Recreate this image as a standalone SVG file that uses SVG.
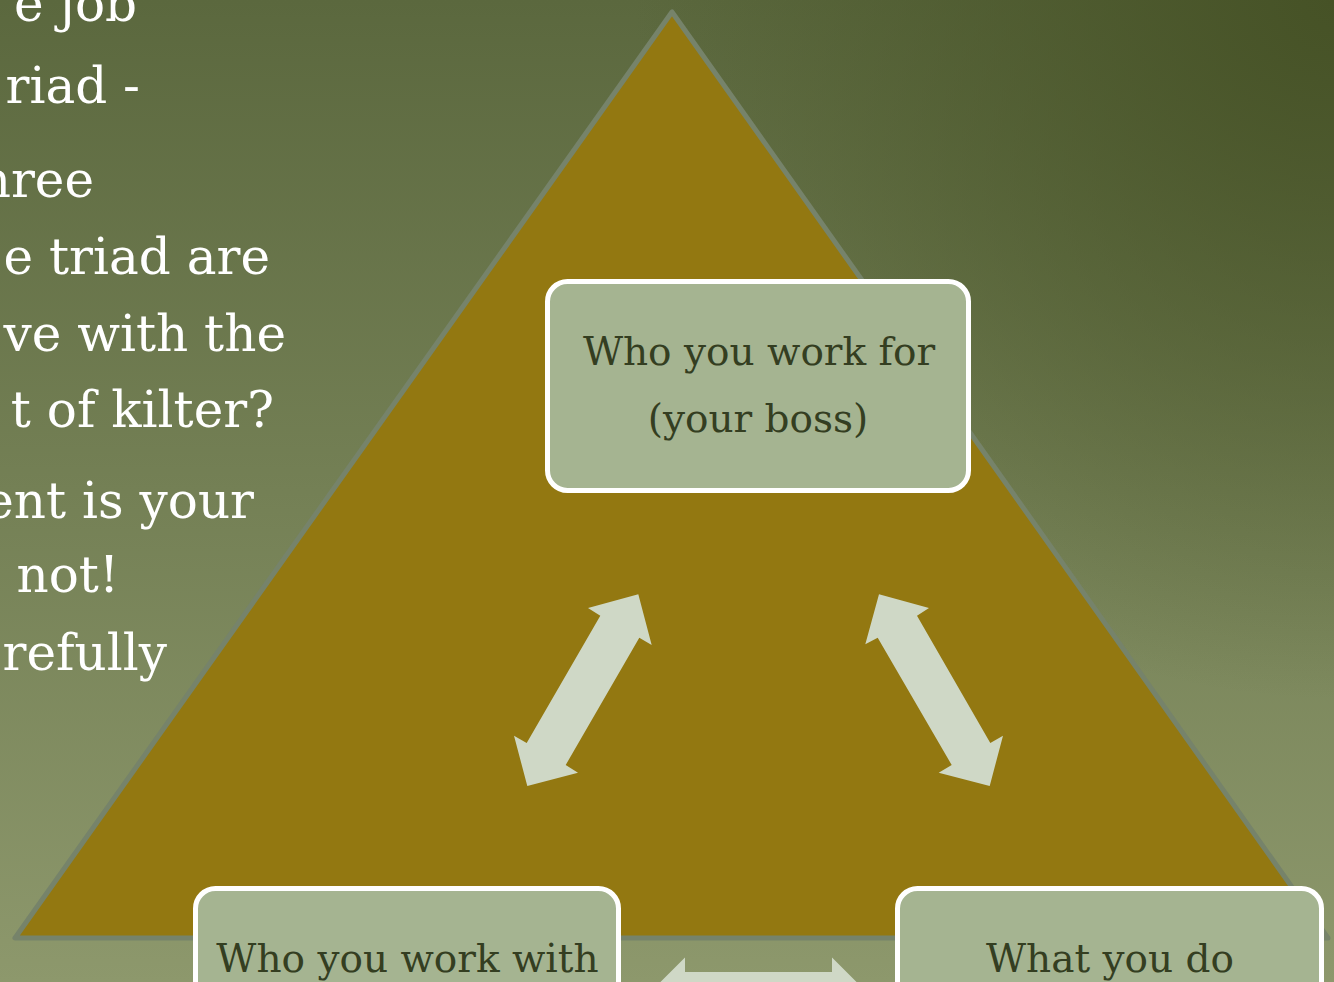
<svg xmlns="http://www.w3.org/2000/svg" width="1334" height="982" viewBox="0 0 1334 982">
<defs>
<linearGradient id="bg" x1="0" y1="0" x2="0" y2="982" gradientUnits="userSpaceOnUse">
<stop offset="0" stop-color="#5b683e"/>
<stop offset="1" stop-color="#8d986c"/>
</linearGradient>
<radialGradient id="corner" cx="1334" cy="0" r="700" gradientUnits="userSpaceOnUse">
<stop offset="0" stop-color="#465226" stop-opacity="1"/>
<stop offset="1" stop-color="#465226" stop-opacity="0"/>
</radialGradient>
<style>
.side{font-family:"DejaVu Serif","Liberation Serif",serif;font-size:50px;fill:#ffffff;text-anchor:end}
.box{fill:#a5b491;stroke:#ffffff;stroke-width:5}
.lbl{font-family:"DejaVu Serif","Liberation Serif",serif;font-size:39px;fill:#343e21;text-anchor:middle}
.arrow{fill:#cfd8c6}
</style>
</defs>
<rect x="0" y="0" width="1334" height="982" fill="url(#bg)"/>
<rect x="0" y="0" width="1334" height="982" fill="url(#corner)"/>
<g id="side-text">
<text class="side" x="137" y="21">e job</text>
<text class="side" x="140" y="103">riad -</text>
<text class="side" x="94" y="197">hree</text>
<text class="side" x="270" y="274">e triad are</text>
<text class="side" x="286" y="351">ve with the</text>
<text class="side" x="274" y="427">t of kilter?</text>
<text class="side" x="254" y="518">ent is your</text>
<text class="side" x="119" y="592">not!</text>
<text class="side" x="167" y="670">refully</text>
</g>
<g id="triangle">
<polygon points="672,12 15,938 1328,938" fill="#937811" stroke="#76836a" stroke-width="5" stroke-linejoin="round"/>
</g>
<g id="connectors">
<polygon class="arrow" points="638.3,594.3 651.7,645 639.3,637.7 565.7,765 578,772.7 527.3,786 514,735.7 526.7,743 600.3,615.7 588,608"/>
<polygon class="arrow" points="879,594.3 865.3,644.3 877.7,637.7 951.7,765 938.7,772.7 989.7,786 1003,735.7 990.3,743 917,615.7 929,608"/>
<polygon class="arrow" points="648,994.4 685,957.6 685,972 832,972 832,957.6 869,994.4 832,1031.2 832,1016.8 685,1016.8 685,1031.2"/>
</g>
<g id="node-boss">
<rect class="box" x="547.5" y="281.5" width="421" height="209" rx="20"/>
<text class="lbl" x="759" y="365">Who you work for</text>
<text class="lbl" x="758" y="432">(your boss)</text>
</g>
<g id="node-colleagues">
<rect class="box" x="195.5" y="888.5" width="423" height="209" rx="20"/>
<text class="lbl" x="407.5" y="972">Who you work with</text>
</g>
<g id="node-work">
<rect class="box" x="897.5" y="888.5" width="424" height="209" rx="20"/>
<text class="lbl" x="1110" y="972">What you do</text>
</g>
</svg>
